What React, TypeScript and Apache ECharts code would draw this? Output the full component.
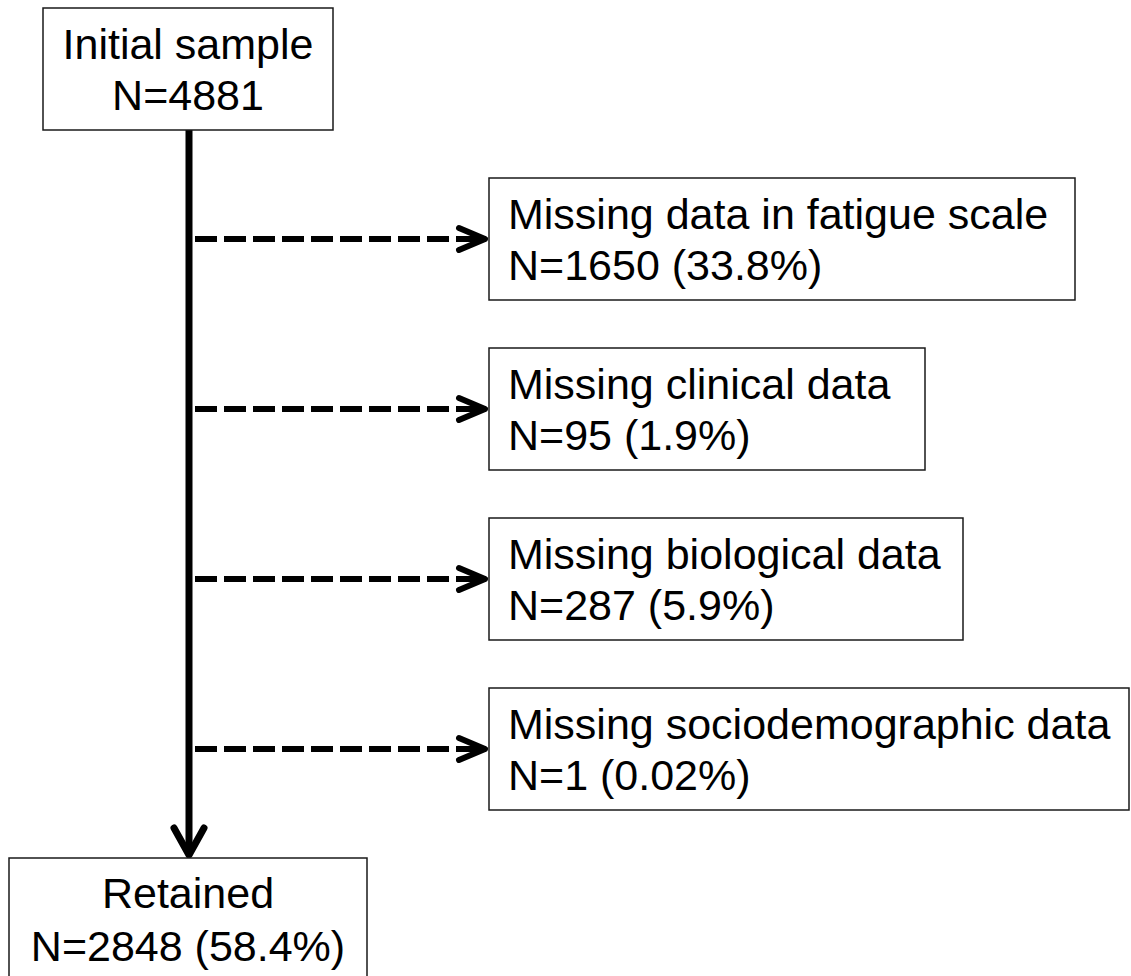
import React, { useEffect, useRef } from "react";
import * as echarts from "echarts";

// ---- Data ----
const initialLabel = "Initial sample";
const initialN = 4881;
const exclusionLabels = [
  "Missing data in fatigue scale",
  "Missing clinical data",
  "Missing biological data",
  "Missing sociodemographic data",
];
const exclusionN = [1650, 95, 287, 1];
const exclusionPct = ["33.8%", "1.9%", "5.9%", "0.02%"];
const retainedLabel = "Retained";
const retainedN = 2848;
const retainedPct = "58.4%";

// ---- Layout (canvas units) ----
const W = 1131;
const H = 976;
const mainX = 189;
const initialBox = { x0: 43, y0: 8, x1: 333, y1: 130 };
const retainedBox = { x0: 9, y0: 858, x1: 367, y1: 992 };
const exclusionLeft = 489;
const exclusionTops = [178, 348, 518, 688];
const exclusionRights = [1075, 925, 963, 1129];
const boxH = 122;
const FONT = '43px "Liberation Sans", Arial, Helvetica, sans-serif';

type Box = {
  x0: number;
  y0: number;
  x1: number;
  y1: number;
  lines: string[];
  align: "left" | "center";
  mids: number[];
};

const boxes: Box[] = [
  {
    ...initialBox,
    lines: [initialLabel, `N=${initialN}`],
    align: "center",
    mids: [initialBox.y0 + 36, initialBox.y0 + 87],
  },
  ...exclusionLabels.map((lab, i) => ({
    x0: exclusionLeft,
    y0: exclusionTops[i],
    x1: exclusionRights[i],
    y1: exclusionTops[i] + boxH,
    lines: [lab, `N=${exclusionN[i]} (${exclusionPct[i]})`],
    align: "left" as const,
    mids: [exclusionTops[i] + 36, exclusionTops[i] + 87],
  })),
  {
    ...retainedBox,
    lines: [retainedLabel, `N=${retainedN} (${retainedPct})`],
    align: "center",
    mids: [893, 946],
  },
];

export default function App() {
  const ref = useRef<HTMLDivElement>(null);
  useEffect(() => {
    if (!ref.current) return;
    const chart = echarts.init(ref.current, undefined, { renderer: "svg" });

    const boxRender = (params: any, api: any) => {
      const b = boxes[params.dataIndex];
      const p0 = api.coord([b.x0, b.y0]);
      const p1 = api.coord([b.x1, b.y1]);
      const cx = (p0[0] + p1[0]) / 2;
      const children: any[] = [
        {
          type: "rect",
          shape: { x: p0[0], y: p0[1], width: p1[0] - p0[0], height: p1[1] - p0[1] },
          style: { fill: "#ffffff", stroke: "#1a1a1a", lineWidth: 1.5 },
        },
      ];
      b.lines.forEach((t, k) => {
        const py = api.coord([0, b.mids[k]])[1];
        children.push({
          type: "text",
          style: {
            text: t,
            x: b.align === "center" ? cx : p0[0] + 19,
            y: py,
            fill: "#000000",
            font: FONT,
            align: b.align,
            verticalAlign: "middle",
          },
        });
      });
      return { type: "group", children };
    };

    // connectors: index 0 = main vertical arrow, 1..4 = dashed arrows
    const connectorRender = (params: any, api: any) => {
      const i = params.dataIndex;
      if (i === 0) {
        const a = api.coord([mainX, initialBox.y1]);
        const b = api.coord([mainX, retainedBox.y0 - 3]);
        return {
          type: "group",
          children: [
            {
              type: "line",
              shape: { x1: a[0], y1: a[1], x2: b[0], y2: b[1] },
              style: { stroke: "#000", lineWidth: 7 },
            },
            {
              type: "polyline",
              shape: {
                points: [
                  [b[0] - 15, b[1] - 27],
                  [b[0], b[1]],
                  [b[0] + 15, b[1] - 27],
                ],
              },
              style: { stroke: "#000", lineWidth: 7, lineCap: "round", lineJoin: "round", fill: null },
            },
          ],
        };
      }
      const k = i - 1;
      const yc = exclusionTops[k] + boxH / 2;
      const a = api.coord([mainX + 6, yc]);
      const tip = api.coord([exclusionLeft - 4, yc]);
      return {
        type: "group",
        children: [
          {
            type: "line",
            shape: { x1: a[0], y1: a[1], x2: tip[0] - 3, y2: tip[1] },
            style: { stroke: "#000", lineWidth: 6, lineDash: [22, 7] },
          },
          {
            type: "polyline",
            shape: {
              points: [
                [tip[0] - 26, tip[1] - 11],
                [tip[0], tip[1]],
                [tip[0] - 26, tip[1] + 11],
              ],
            },
            style: { stroke: "#000", lineWidth: 6, lineCap: "round", lineJoin: "round", fill: null },
          },
        ],
      };
    };

    chart.setOption({
      animation: false,
      backgroundColor: "#ffffff",
      grid: { left: 0, right: 0, top: 0, bottom: 0 },
      xAxis: { type: "value", min: 0, max: W, show: false },
      yAxis: { type: "value", min: 0, max: H, inverse: true, show: false },
      series: [
        {
          type: "custom",
          clip: false,
          silent: true,
          renderItem: connectorRender,
          data: [0, 1, 2, 3, 4].map((i) => [i, i]),
          z: 1,
        },
        {
          type: "custom",
          clip: false,
          silent: true,
          renderItem: boxRender,
          data: boxes.map((_, i) => [i, i]),
          z: 2,
        },
      ],
    });
    return () => chart.dispose();
  }, []);

  return (
    <div
      ref={ref}
      style={{ position: "fixed", left: 0, top: 0, width: W, height: H, background: "#fff" }}
    />
  );
}
